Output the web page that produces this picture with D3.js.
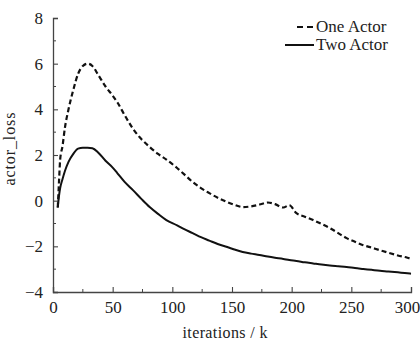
<!DOCTYPE html>
<html>
<head>
<meta charset="utf-8">
<script src="https://cdn.jsdelivr.net/npm/d3@7/dist/d3.min.js"></script>
</head>
<body style="margin:0">
<script>

// data (iterations in k)

var iters = [4, 5, 6, 8, 10, 13, 17, 21, 25, 29, 33, 38, 44, 50, 54, 60, 67, 74, 81, 88, 95,
             104, 110, 117, 124, 131, 138, 146, 152, 159, 166, 173, 180, 186, 193, 198, 204,
             211, 218, 225, 232, 239, 246, 253, 260, 267, 274, 281, 289, 297, 300];

var oneActor = [-0.3, 0.8, 1.8, 2.4, 3.2, 4.0, 4.85, 5.55, 5.9, 6.0, 5.9, 5.5, 5.0, 4.6, 4.3,
                3.75, 3.15, 2.7, 2.35, 2.05, 1.8, 1.43, 1.15, 0.82, 0.55, 0.33, 0.13, -0.06,
                -0.18, -0.28, -0.25, -0.17, -0.08, -0.15, -0.3, -0.2, -0.55, -0.7, -0.85,
                -1.02, -1.2, -1.42, -1.64, -1.8, -1.95, -2.06, -2.17, -2.28, -2.4, -2.5, -2.55];

var twoActor = [-0.3, 0.2, 0.55, 0.95, 1.3, 1.7, 2.05, 2.28, 2.32, 2.32, 2.3, 2.1, 1.75, 1.45,
                1.2, 0.82, 0.46, 0.08, -0.28, -0.58, -0.85, -1.08, -1.25, -1.42, -1.6, -1.75,
                -1.9, -2.03, -2.14, -2.25, -2.32, -2.38, -2.45, -2.5, -2.55, -2.6, -2.64, -2.7,
                -2.75, -2.8, -2.84, -2.87, -2.9, -2.95, -2.99, -3.03, -3.07, -3.1, -3.14,
                -3.18, -3.2];

var xTicks = [0, 50, 100, 150, 200, 250, 300];
var yTicks = [-4, -2, 0, 2, 4, 6, 8];
var seriesNames = ["One Actor", "Two Actor"];

//----------------------------
// Layout
//----------------------------

var totwidth = 420,
	totheight = 346,
	paddingLeft = 53,
	paddingRight = 9,
	paddingTop = 18,
	paddingBottom = 54;

var serif = "'Liberation Serif', serif";

// serif text helper (inline, important so nothing overrides it)
function serifText(sel, size) {
	sel.style("font-family", serif, "important")
		.style("font-size", size + "px", "important")
		.attr("font-family", serif)
		.attr("fill", "#222");
}

var svg = d3.select("body").append("svg")
	.attr("width", totwidth)
	.attr("height", totheight)
	.style("background", "#fff");

var x = d3.scaleLinear()
	.domain([0, 300])
	.range([paddingLeft, totwidth - paddingRight]);

var y = d3.scaleLinear()
	.domain([-4, 8])
	.range([totheight - paddingBottom, paddingTop]);

// Axes (ticks pointing inward)

var xAxis = d3.axisBottom(x).tickValues(xTicks).tickSize(-5).tickPadding(9);
var yAxis = d3.axisLeft(y).tickValues(yTicks).tickSize(-5).tickPadding(10)
	.tickFormat(function(d) { return d < 0 ? "\u2212" + Math.abs(d) : d; });

var gx = svg.append("g")
	.attr("transform", "translate(0," + y(-4) + ")")
	.call(xAxis);

var gy = svg.append("g")
	.attr("transform", "translate(" + x(0) + ",0)")
	.call(yAxis);

[gx, gy].forEach(function(g) {
	g.attr("font-family", serif).attr("font-size", 17);
	g.select(".domain").attr("stroke", "#444").attr("stroke-width", 1.3);
	g.selectAll(".tick line").attr("stroke", "#444").attr("stroke-width", 1.1);
	serifText(g.selectAll(".tick text"), 17);
});

// last x label sits against the edge
gx.selectAll(".tick text").filter(function(d) { return d === 300; }).attr("dx", -4);

// minor ticks

svg.append("g").selectAll("line")
	.data(d3.range(25, 300, 50)).enter().append("line")
	.attr("x1", function(d) { return x(d); })
	.attr("x2", function(d) { return x(d); })
	.attr("y1", y(-4))
	.attr("y2", y(-4) - 3)
	.attr("stroke", "#444");

svg.append("g").selectAll("line")
	.data(d3.range(-3, 8, 2)).enter().append("line")
	.attr("x1", x(0))
	.attr("x2", x(0) + 3)
	.attr("y1", function(d) { return y(d); })
	.attr("y2", function(d) { return y(d); })
	.attr("stroke", "#444");

// Axis labels

svg.append("text")
	.attr("x", 225)
	.attr("y", 338)
	.attr("text-anchor", "middle")
	.attr("textLength", 85)
	.attr("lengthAdjust", "spacing")
	.call(serifText, 16)
	.text("iterations / k");

svg.append("text")
	.attr("transform", "translate(15,149) rotate(-90)")
	.attr("text-anchor", "middle")
	.attr("textLength", 73)
	.attr("lengthAdjust", "spacing")
	.call(serifText, 16)
	.text("actor_loss");

// Lines

var linefun = function(vals) {
	return d3.line()
		.x(function(d, i) { return x(iters[i]); })
		.y(function(d) { return y(d); })
		.curve(d3.curveMonotoneX)(vals);
};

svg.append("path")
	.attr("fill", "none")
	.attr("stroke", "#111")
	.attr("stroke-width", 2.2)
	.attr("stroke-dasharray", "5,3")
	.attr("d", linefun(oneActor));

svg.append("path")
	.attr("fill", "none")
	.attr("stroke", "#111")
	.attr("stroke-width", 2)
	.attr("d", linefun(twoActor));

// Legend

var legend = svg.append("g");

legend.append("line")
	.attr("x1", 297).attr("x2", 314)
	.attr("y1", 27).attr("y2", 27)
	.attr("stroke", "#111").attr("stroke-width", 2)
	.attr("stroke-dasharray", "6,4");

legend.append("line")
	.attr("x1", 285).attr("x2", 314)
	.attr("y1", 45).attr("y2", 45)
	.attr("stroke", "#111").attr("stroke-width", 2);

legend.selectAll("text").data(seriesNames).enter().append("text")
	.attr("x", 316)
	.attr("y", function(d, i) { return 32 + i * 18; })
	.call(serifText, 17)
	.text(function(d) { return d; });

</script>
</body>
</html>
